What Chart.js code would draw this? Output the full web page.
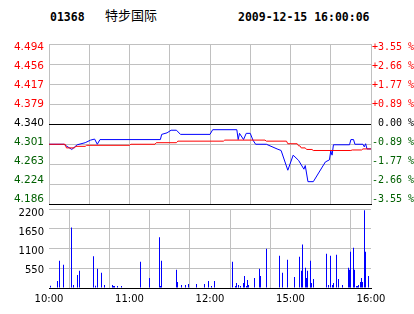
<!DOCTYPE html>
<html>
<head>
<meta charset="utf-8">
<script src="https://cdn.jsdelivr.net/npm/chart.js@4"></script>
<style>
  body { margin: 0; background: #fff; }
  #wrap { position: relative; width: 414px; height: 314px; overflow: hidden; }
  canvas { position: absolute; left: 0; top: 0; }
  .hd { position: absolute; color: #000; white-space: nowrap; }
  .mono { font: bold 11.5px "DejaVu Sans Mono", monospace; line-height: 14px; top: 10px; }
  .cjk { font: 13px "Noto Sans CJK SC", sans-serif; line-height: 14px; top: 8px; }
</style>
</head>
<body>
<div id="wrap">
  <div class="hd mono" style="left:50px">01368</div>
  <div class="hd cjk" style="left:105px">特步国际</div>
  <div class="hd mono" style="left:238px">2009-12-15 16:00:06</div>
  <canvas id="priceChart" width="414" height="314"></canvas>
  <canvas id="volChart" width="414" height="314"></canvas>
</div>
<script>
// --- DONNEES ---
const PREV_CLOSE = 4.34;
const PRICE_MIN = 4.186;
const PRICE_MAX = 4.494;

// labels des axes (de haut en bas)
const priceLabels = ['4.494', '4.456', '4.417', '4.379', '4.340', '4.301', '4.263', '4.224', '4.186'];
const pctLabels = ['+3.55 %', '+2.66 %', '+1.77 %', '+0.89 %', ' 0.00 %', '-0.89 %', '-1.77 %', '-2.66 %', '-3.55 %'];
const volLabels = ['2200', '1650', '1100', '550'];
const volGrid = [0, 550, 1100, 1650, 2200];
const timeLabels = { 0: '10:00', 60: '11:00', 120: '12:00', 180: '15:00', 240: '16:00' };

// prix (ligne bleue)
const priceTimes = ['10:00', '10:11', '10:17', '10:21', '10:27', '10:31', '10:34', '10:36', '10:38',
  '11:23', '11:24', '11:28', '11:31', '11:35', '11:38', '12:00', '12:02', '12:20', '12:21', '12:22',
  '12:25', '12:27', '12:30', '14:32', '14:34', '14:42', '14:50', '14:53', '14:58', '15:02', '15:06',
  '15:10', '15:11', '15:13', '15:17', '15:26', '15:29', '15:30', '15:31', '15:32', '15:44', '15:45',
  '15:47', '15:48', '15:54', '15:55', '15:56', '15:57', '16:00'];
const prices = [4.301, 4.301, 4.291, 4.300, 4.304, 4.309, 4.311, 4.301, 4.310,
  4.310, 4.320, 4.323, 4.328, 4.328, 4.320, 4.320, 4.329, 4.329, 4.310, 4.322,
  4.310, 4.322, 4.322, 4.309, 4.301, 4.301, 4.292, 4.289, 4.251, 4.280, 4.270,
  4.253, 4.260, 4.229, 4.229, 4.267, 4.271, 4.288, 4.280, 4.300, 4.300, 4.310,
  4.310, 4.301, 4.301, 4.296, 4.302, 4.292, 4.292];

// prix moyen (ligne rouge)
const avgTimes = ['10:00', '10:12', '10:13', '10:19', '10:20', '10:27', '10:28', '11:00', '11:01',
  '11:19', '11:20', '11:35', '11:36', '12:10', '12:11', '14:41', '14:42', '14:57', '14:58', '15:05',
  '15:06', '15:07', '15:08', '15:11', '15:12', '15:16', '15:17', '15:45', '15:46', '15:53', '15:54', '16:00'];
const avgPrices = [4.301, 4.301, 4.294, 4.294, 4.297, 4.297, 4.299, 4.299, 4.301,
  4.301, 4.304, 4.304, 4.307, 4.307, 4.309, 4.309, 4.307, 4.307, 4.302, 4.302,
  4.298, 4.298, 4.294, 4.294, 4.291, 4.291, 4.289, 4.289, 4.290, 4.290, 4.292, 4.292];

// volumes
const volTimes = ['10:01', '10:06', '10:08', '10:11', '10:17', '10:18', '10:21', '10:23', '10:33',
  '10:35', '10:36', '10:39', '10:41', '10:47', '10:48', '10:49', '10:51', '10:54', '11:08', '11:15',
  '11:22', '11:23', '11:24', '11:35', '11:36', '11:39', '11:42', '11:44', '11:50', '11:56', '11:59',
  '12:01', '12:03', '12:17', '12:19', '12:20', '12:21', '12:23', '12:25', '12:26', '12:27', '12:28',
  '12:29', '14:33', '14:37', '14:38', '14:42', '14:52', '14:54', '14:58', '15:03', '15:07', '15:08',
  '15:09', '15:11', '15:12', '15:13', '15:15', '15:16', '15:17', '15:27', '15:28', '15:30', '15:31',
  '15:32', '15:34', '15:36', '15:39', '15:43', '15:44', '15:45', '15:47', '15:48', '15:49', '15:50',
  '15:51', '15:52', '15:53', '15:54', '15:55', '15:56', '15:58'];
const volumes = [66, 197, 759, 647, 1687, 84, 365, 478, 881,
  66, 534, 422, 84, 84, 56, 56, 56, 56, 731, 281,
  1414, 56, 759, 506, 169, 84, 84, 112, 112, 112, 197,
  56, 197, 731, 56, 141, 84, 56, 141, 337, 56, 225,
  84, 281, 534, 337, 1096, 899, 422, 787, 309, 871, 478,
  1209, 562, 281, 478, 759, 141, 253, 956, 84, 899, 84,
  141, 927, 253, 84, 562, 506, 1012, 1124, 506, 56, 56,
  84, 169, 281, 169, 2164, 1012, 337];

// --- UTILITAIRES ---
// minutes de seance depuis 10:00 (pause 12:30 - 14:30)
function toIdx(t) {
  const [h, m] = t.split(':').map(Number);
  const mins = h * 60 + m;
  return mins <= 750 ? mins - 600 : mins - 870 + 150;
}

const GRID = '#c0c0c0';
const RED = '#ff0000';
const GREEN = '#006000';
const gridMinutes = [0, 30, 60, 90, 120, 150, 180, 210, 240];

function labelColor(i) {
  // i : index depuis le bas (0 = 4.186)
  if (i === 4) return '#000';
  return i > 4 ? RED : GREEN;
}

function priceTicks(axis) {
  const step = (PRICE_MAX - PRICE_MIN) / 8;
  axis.ticks = [];
  for (let i = 0; i <= 8; i++) axis.ticks.push({ value: PRICE_MIN + step * i });
}

const xGridTicks = (axis) => { axis.ticks = gridMinutes.map(v => ({ value: v })); };
const indexTicks = (n) => (axis) => {
  axis.ticks = [];
  for (let i = 0; i < n; i++) axis.ticks.push({ value: i });
};

// les libelles sont resserres vers l'interieur : axes "libelles" a part
function labelAxis(position, width, labels, opts) {
  return Object.assign({
    position: position,
    grid: { display: false, drawTicks: false },
    border: { display: false },
    afterFit: (a) => { a.width = width; }
  }, opts, {
    ticks: Object.assign({ callback: (v, i) => labels[labels.length - 1 - i] }, opts.ticks)
  });
}

// aligne les barres sur les pixels
const snapBars = {
  id: 'snapBars',
  beforeDatasetsDraw(chart) {
    chart.getDatasetMeta(0).data.forEach(el => { el.x = Math.round(el.x - 0.5) + 0.5; });
  }
};

// --- GRAPHIQUE PRIX ---
const priceChart = new Chart(document.getElementById('priceChart'), {
  type: 'line',
  data: {
    datasets: [{
      label: 'avg',
      data: avgTimes.map((t, i) => ({ x: toIdx(t), y: avgPrices[i] })),
      borderColor: RED,
      borderWidth: 1,
      pointRadius: 0,
      yAxisID: 'y'
    }, {
      label: 'price',
      data: priceTimes.map((t, i) => ({ x: toIdx(t), y: prices[i] })),
      borderColor: '#0000ff',
      borderWidth: 1,
      pointRadius: 0,
      yAxisID: 'y'
    }]
  },
  options: {
    responsive: false,
    animation: false,
    devicePixelRatio: 1,
    layout: { padding: { top: 44, bottom: 110, left: 0, right: 0 } },
    plugins: { legend: { display: false }, tooltip: { enabled: false } },
    scales: {
      x: {
        type: 'linear', min: 0, max: 240,
        afterBuildTicks: xGridTicks,
        afterFit: (a) => { a.height = 0; },
        ticks: { display: false },
        grid: { color: GRID, drawTicks: false },
        border: { color: '#000' }
      },
      y: {
        position: 'left', min: PRICE_MIN, max: PRICE_MAX,
        afterBuildTicks: priceTicks,
        afterFit: (a) => { a.width = 0; },
        ticks: { display: false },
        grid: {
          drawTicks: false,
          color: (ctx) => (ctx.index === 0 || ctx.index === 4) ? '#000' : GRID
        },
        border: { display: false }
      },
      yl: labelAxis('left', 49, priceLabels, {
        min: -0.237, max: 8.157,
        afterBuildTicks: indexTicks(9),
        ticks: {
          padding: 5,
          font: { family: 'DejaVu Sans', size: 10.5 },
          color: (ctx) => labelColor(ctx.index)
        }
      }),
      yr: labelAxis('right', 43, pctLabels, {
        min: -0.237, max: 8.157,
        afterBuildTicks: indexTicks(9),
        ticks: {
          padding: 1,
          font: { family: 'DejaVu Sans Mono', size: 10 },
          color: (ctx) => labelColor(ctx.index)
        }
      })
    }
  }
});

// --- GRAPHIQUE VOLUME ---
const volChart = new Chart(document.getElementById('volChart'), {
  type: 'bar',
  data: {
    datasets: [{
      label: 'vol',
      data: volTimes.map((t, i) => ({ x: toIdx(t), y: volumes[i] })),
      backgroundColor: '#0000ff',
      barThickness: 1,
      inflateAmount: 0
    }]
  },
  plugins: [snapBars],
  options: {
    responsive: false,
    animation: false,
    devicePixelRatio: 1,
    layout: { padding: { top: 209, bottom: 6, left: 0, right: 43 } },
    plugins: { legend: { display: false }, tooltip: { enabled: false } },
    scales: {
      x: {
        type: 'linear', min: 0, max: 240, offset: false,
        afterBuildTicks: xGridTicks,
        afterFit: (a) => { a.height = 20; },
        ticks: {
          padding: 5, autoSkip: false, maxRotation: 0,
          font: { family: 'DejaVu Sans', size: 10 },
          color: '#000',
          callback: (v) => timeLabels[v] || ''
        },
        grid: { color: GRID, drawTicks: false },
        border: { color: '#000' }
      },
      y: {
        position: 'left', min: 0, max: 2200,
        afterBuildTicks: (a) => { a.ticks = volGrid.map(v => ({ value: v })); },
        afterFit: (a) => { a.width = 0; },
        ticks: { display: false },
        grid: { color: (ctx) => ctx.index === 0 ? '#000' : GRID, drawTicks: false },
        border: { display: false }
      },
      yl: labelAxis('left', 49, volLabels, {
        min: 0.073, max: 4.209,
        afterBuildTicks: (a) => { a.ticks = [1, 2, 3, 4].map(v => ({ value: v })); },
        ticks: {
          padding: 5,
          font: { family: 'DejaVu Sans', size: 10 },
          color: '#000'
        }
      })
    }
  }
});
</script>
</body>
</html>
